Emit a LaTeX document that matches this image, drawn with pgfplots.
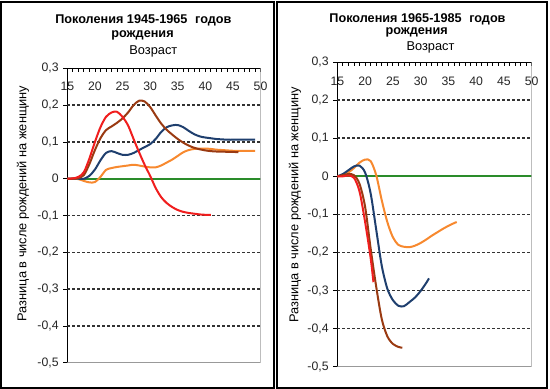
\documentclass[border=0pt]{standalone}
\usepackage{fontspec}
\setmainfont{Liberation Sans}
\usepackage{pgfplots}
\pgfplotsset{compat=1.18}
\definecolor{cred}{HTML}{F01E1E}
\definecolor{cbrown}{HTML}{9A3A12}
\definecolor{cblue}{HTML}{1F3F6E}
\definecolor{corange}{HTML}{F7892F}
\definecolor{cgreen}{HTML}{2A8C2A}
\tikzset{gridline/.style={black!80, line width=1.15pt, dash pattern=on 2.25pt off 1.5pt}}
\pgfplotsset{
  panel/.style={
    scale only axis, anchor=south west,
    xmin=15, xmax=50, ymin=-0.5, ymax=0.3,
    axis x line*=top, axis y line*=left,
    axis line style={black, line width=0.8pt, -},
    xtick={15,20,...,50}, xticklabels={15,20,25,30,35,40,45,50},
    minor x tick num=4,
    tick align=outside,
    major tick length=3pt, minor tick length=3pt,
    tick style={black, line width=0.6pt},
    x tick style={yshift=-3pt},
    ytick={-0.5,-0.4,-0.3,-0.2,-0.1,0,0.1,0.2,0.3},
    yticklabels={{-0,5},{-0,4},{-0,3},{-0,2},{-0,1},{0},{0,1},{0,2},{0,3}},
    ticklabel style={font=\fontsize{9.2}{10}\selectfont, text=black!85},
    every axis plot/.append style={line width=1.5pt, smooth, tension=0.5},
  },
}
\begin{document}
\begin{tikzpicture}
\useasboundingbox (0,0) rectangle (412.5pt,291.75pt);
\draw[line width=1.5pt] (1.1pt,1.1pt) rectangle (205.5pt,290.6pt);
\draw[line width=1.5pt] (207.75pt,1.1pt) rectangle (410.6pt,290.6pt);

% ---------- left panel ----------
\begin{axis}[panel, at={(50.5pt,19.7pt)}, width=144.9pt, height=220.8pt,
  xticklabel style={anchor=north, yshift=-9.6pt}]
\pgfplotsinvokeforeach{0.2,0.1,-0.1,-0.2,-0.3,-0.4}{\draw[gridline] (axis cs:15,#1) -- (axis cs:50,#1);}
\addplot[cgreen, smooth=false] coordinates {(15,0) (50,0)};
\addplot[corange] coordinates {(15,0)(16,0)(17,-0.001)(18,-0.006)(19,-0.01)(20,-0.009)(21,0.005)(22,0.024)(23,0.029)(24,0.032)(25,0.034)(26,0.036)(27,0.038)(28,0.036)(29,0.033)(30,0.031)(31,0.031)(32,0.036)(33,0.044)(34,0.052)(35,0.062)(36,0.072)(37,0.078)(38,0.081)(39,0.082)(40,0.082)(41,0.081)(42,0.079)(43,0.078)(44,0.077)(45,0.076)(46,0.076)(47,0.076)(48,0.076)(49,0.076)};
\addplot[cblue] coordinates {(15,0)(16,0)(17,0)(18,0)(19,0.008)(20,0.025)(21,0.05)(22,0.07)(23,0.075)(24,0.07)(25,0.065)(26,0.065)(27,0.07)(28,0.078)(29,0.086)(30,0.094)(31,0.108)(32,0.127)(33,0.14)(34,0.145)(35,0.146)(36,0.14)(37,0.13)(38,0.121)(39,0.115)(40,0.112)(41,0.11)(42,0.108)(43,0.107)(44,0.106)(45,0.106)(46,0.106)(47,0.106)(48,0.106)(49,0.106)};
\addplot[cbrown] coordinates {(15,0)(16,0)(17,0.002)(18,0.01)(19,0.04)(20,0.078)(21,0.11)(22,0.132)(23,0.142)(24,0.152)(25,0.164)(26,0.18)(27,0.2)(28,0.212)(29,0.21)(30,0.195)(31,0.172)(32,0.15)(33,0.133)(34,0.12)(35,0.108)(36,0.098)(37,0.09)(38,0.084)(39,0.08)(40,0.077)(41,0.075)(42,0.074)(43,0.074)(44,0.073)(45,0.073)(46,0.072)};
\addplot[cred] coordinates {(15,0)(16,0.001)(17,0.005)(18,0.018)(19,0.055)(20,0.1)(21,0.14)(22,0.168)(23,0.18)(24,0.182)(25,0.168)(26,0.145)(27,0.108)(28,0.072)(29,0.038)(30,0.008)(31,-0.025)(32,-0.05)(33,-0.066)(34,-0.077)(35,-0.085)(36,-0.09)(37,-0.093)(38,-0.095)(39,-0.097)(40,-0.098)(41,-0.098)};
\draw[black!40, line width=0.8pt] (rel axis cs:0,0) -- (rel axis cs:1,0) -- (rel axis cs:1,1);
\end{axis}

% ---------- right panel ----------
\begin{axis}[panel, at={(253pt,16.7pt)}, width=145.8pt, height=228.5pt,
  xticklabel style={anchor=north, yshift=-10.5pt}]
\pgfplotsinvokeforeach{0.2,0.1,-0.1,-0.2,-0.3,-0.4}{\draw[gridline] (axis cs:15,#1) -- (axis cs:50,#1);}
\addplot[cgreen, smooth=false] coordinates {(15,0) (50,0)};
\addplot[corange] coordinates {(15,0)(16,0.003)(17,0.01)(18,0.022)(19,0.036)(20,0.044)(21,0.04)(22,0.003)(23,-0.063)(24,-0.12)(25,-0.16)(26,-0.18)(27,-0.185)(28,-0.186)(29,-0.182)(30,-0.175)(31,-0.166)(32,-0.156)(33,-0.147)(34,-0.138)(35,-0.13)(36,-0.123)(36.5,-0.12)};
\addplot[cblue] coordinates {(15,0)(16,0.006)(17,0.016)(18,0.026)(19,0.028)(20,0.01)(21,-0.045)(22,-0.14)(23,-0.235)(24,-0.295)(25,-0.325)(26,-0.34)(27,-0.341)(28,-0.33)(29,-0.318)(30,-0.301)(31,-0.28)(31.5,-0.268)};
\addplot[cbrown] coordinates {(15,0)(16,0.003)(17,0.006)(18,0.003)(19,-0.02)(20,-0.08)(21,-0.19)(22,-0.29)(23,-0.375)(24,-0.42)(25,-0.44)(26,-0.448)(26.7,-0.45)};
\addplot[cred] coordinates {(15,0)(16,0)(17,0.002)(18,-0.004)(19,-0.04)(20,-0.12)(21,-0.215)(21.5,-0.278)};
\draw[black!40, line width=0.8pt] (rel axis cs:0,0) -- (rel axis cs:1,0) -- (rel axis cs:1,1);
\end{axis}

% ---------- texts ----------
\begin{scope}[every node/.style={inner sep=0pt}]
\node[anchor=base, font=\bfseries\fontsize{9.5}{11}\selectfont] at (107.5pt,273.75pt) {Поколения 1945-1965\hspace{0.6em}годов};
\node[anchor=base, font=\bfseries\fontsize{9.5}{11}\selectfont] at (106.9pt,263.8pt) {рождения};
\node[anchor=base, font=\fontsize{9.6}{11}\selectfont] at (115pt,250.5pt) {Возраст};
\node[anchor=base, font=\bfseries\fontsize{9.5}{11}\selectfont] at (313.1pt,274.75pt) {Поколения 1965-1985\hspace{0.6em}годов};
\node[anchor=base, font=\bfseries\fontsize{9.5}{11}\selectfont] at (312.5pt,265.5pt) {рождения};
\node[anchor=base, font=\fontsize{9.6}{11}\selectfont] at (322.9pt,253.75pt) {Возраст};
\node[rotate=90, font=\fontsize{9.6}{11}\selectfont] at (17.25pt,139.1pt) {Разница в числе рождений на женщину};
\node[rotate=90, font=\fontsize{9.6}{11}\selectfont] at (221.25pt,138pt) {Разница в числе рождений на женщину};
\end{scope}
\end{tikzpicture}
\end{document}
